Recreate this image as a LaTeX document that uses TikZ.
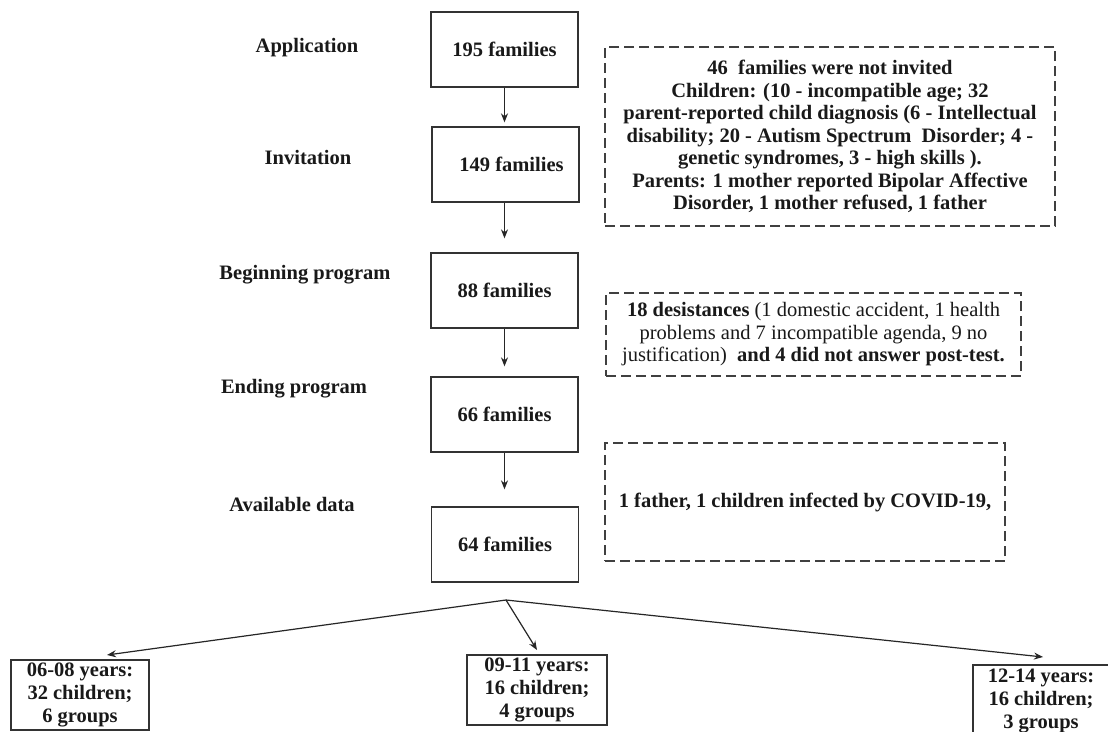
\documentclass[tikz,border=0pt]{standalone}
\usepackage{fontspec}
\setmainfont{Liberation Serif}
\usetikzlibrary{arrows.meta}
\begin{document}
\begin{tikzpicture}[x=1pt,y=-1pt,
  every node/.style={font=\fontsize{20.5}{22.5}\selectfont\bfseries, text=black!90},
  box/.style={draw=black!80, line width=1.3pt, minimum width=147pt, minimum height=75pt, inner sep=0pt},
  dbox/.style={draw=black!75, line width=1.5pt, dash pattern=on 10pt off 5pt, inner sep=0pt, align=center},
  arr/.style={draw=black!85, line width=1.2pt, -{Stealth[length=9pt,width=7pt]}},
  agebox/.style={draw=black!80, line width=1.3pt, inner sep=0pt, align=center, font=\fontsize{20.5}{23}\selectfont\bfseries}]
\useasboundingbox (0,0) rectangle (1108,731);
\fill[white] (0,0) rectangle (1108,731);

% stage labels
\node (lapp) at (307,48) {Application};
\node (linv) at (308,157) {Invitation};
\node (lbeg) at (305,275) {Beginning program};
\node (lend) at (294,389) {Ending program};
\node (lava) at (292,504) {Available data};

% main column
\node[box] (n195) at (504.5,49.5) {195 families};
\node[box] (n149) at (505.5,164.5) {\hspace{12pt}149 families};
\node[box] (n88) at (504.5,290.5) {88 families};
\node[box] (n66) at (504.5,414.5) {66 families};
\node[box] (n64) at (505,544.5) {64 families};

\draw[arr, shorten >=4pt] (n195.south) -- (n195.south |- n149.north);
\draw[arr, shorten >=14pt] (n149.south -| n195.south) -- (n195.south |- n88.north);
\draw[arr, shorten >=10pt] (n88.south) -- (n88.south |- n66.north);
\draw[arr, shorten >=17pt] (n66.south) -- (n66.south |- n64.north);

% dashed notes
\node[dbox, minimum width=450pt, minimum height=179pt] (d1) at (830,136.5)
 {46\ \ families were not invited\\
  Children: (10 - incompatible age; 32\\
  parent-reported child diagnosis (6 - Intellectual\\
  disability; 20 - Autism Spectrum\ \ Disorder; 4 -\\
  genetic syndromes, 3 - high skills ).\\
  Parents: 1 mother reported Bipolar Affective\\
  Disorder, 1 mother refused, 1 father};
\node[dbox, minimum width=415pt, minimum height=83pt] (d2) at (813.5,334.5)
 {18 desistances \mdseries(1 domestic accident, 1 health\\
  \mdseries problems and 7 incompatible agenda, 9 no\\
  \mdseries justification)\ \ \bfseries and 4 did not answer post-test.};
\node[dbox, minimum width=400pt, minimum height=118pt] (d3) at (805,502)
 {1 father, 1 children infected by COVID-19,};

% age groups
\coordinate (split) at (506,600);
\coordinate (t1) at (107,655);
\coordinate (t2) at (537,650);
\coordinate (t3) at (1043,657);
\node[agebox, minimum width=138pt, minimum height=70pt] (g1) at (80,695)
 {06-08 years:\\32 children;\\6 groups};
\node[agebox, minimum width=140pt, minimum height=70pt] (g2) at (537,690)
 {09-11 years:\\16 children;\\4 groups};
\node[agebox, minimum width=136pt, minimum height=72pt] (g3) at (1041,701)
 {12-14 years:\\16 children;\\3 groups};
\draw[arr] (split) -- (t1);
\draw[arr] (split) -- (t2);
\draw[arr] (split) -- (t3);
\end{tikzpicture}
\end{document}
